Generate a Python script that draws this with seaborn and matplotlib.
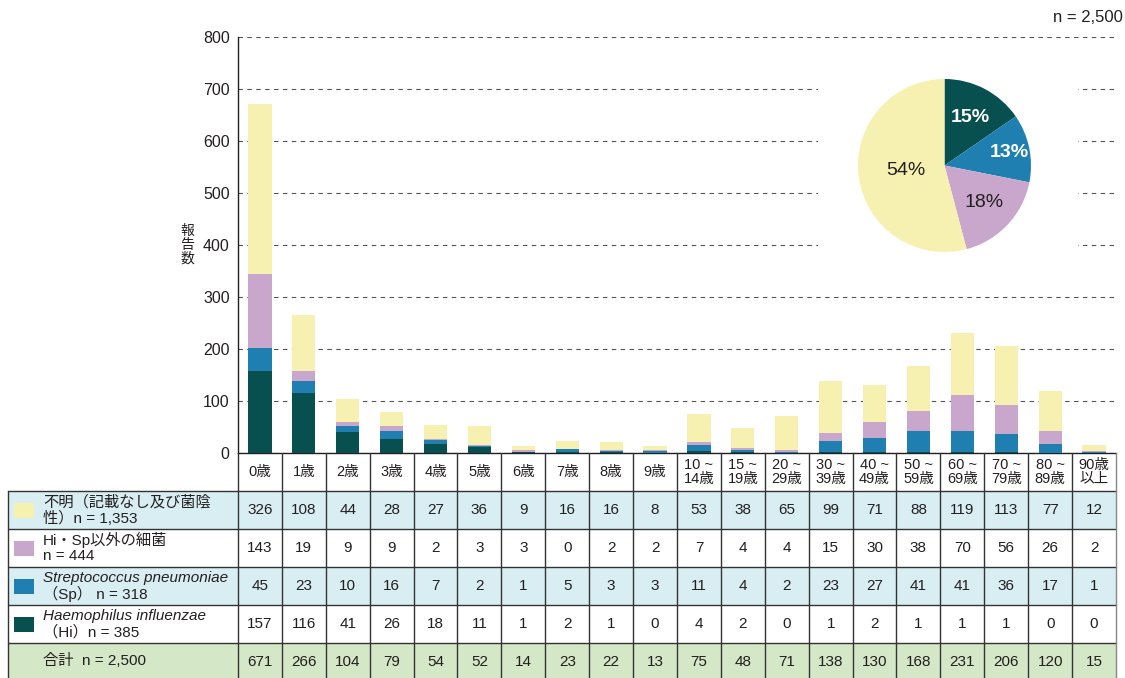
import numpy as np
import pandas as pd
import matplotlib
matplotlib.use("Agg")
import matplotlib.pyplot as plt
from matplotlib.patches import Rectangle
import seaborn as sns

# データ（年齢群別の報告数）
age_groups = ["0歳", "1歳", "2歳", "3歳", "4歳", "5歳", "6歳", "7歳", "8歳", "9歳",
              "10 ~\n14歳", "15 ~\n19歳", "20 ~\n29歳", "30 ~\n39歳", "40 ~\n49歳",
              "50 ~\n59歳", "60 ~\n69歳", "70 ~\n79歳", "80 ~\n89歳", "90歳\n以上"]
unknown = [326, 108, 44, 28, 27, 36, 9, 16, 16, 8, 53, 38, 65, 99, 71, 88, 119, 113, 77, 12]
other = [143, 19, 9, 9, 2, 3, 3, 0, 2, 2, 7, 4, 4, 15, 30, 38, 70, 56, 26, 2]
sp = [45, 23, 10, 16, 7, 2, 1, 5, 3, 3, 11, 4, 2, 23, 27, 41, 41, 36, 17, 1]
hi = [157, 116, 41, 26, 18, 11, 1, 2, 1, 0, 4, 2, 0, 1, 2, 1, 1, 1, 0, 0]

c_unknown = "#F6F1B1"
c_other = "#C9A7CD"
c_sp = "#1F7FB1"
c_hi = "#08504F"
c_row_blue = "#D9EEF3"
c_row_green = "#D4E7C6"
c_text = "#231F20"

df = pd.DataFrame({"age": age_groups, "unknown": unknown, "other": other,
                   "sp": sp, "hi": hi})
df["total"] = df[["unknown", "other", "sp", "hi"]].sum(axis=1)
n_total = int(df["total"].sum())

sns.set_theme(style="white")
plt.rcParams["font.family"] = ["Liberation Sans", "Noto Sans CJK JP"]
plt.rcParams["text.color"] = c_text

W, H = 1125, 678
fig = plt.figure(figsize=(W / 100, H / 100), dpi=100)

# チャート領域（ピクセル基準）
x0, x1 = 238, 1116
y_top, y_bot = 37, 453
cw = (x1 - x0) / len(age_groups)
ax = fig.add_axes([x0 / W, (H - y_bot) / H, (x1 - x0) / W, (y_bot - y_top) / H])

# 積み上げ棒（上から重ねて描く）
layers = [
    (df["total"], c_unknown),
    (df["hi"] + df["sp"] + df["other"], c_other),
    (df["hi"] + df["sp"], c_sp),
    (df["hi"], c_hi),
]
for vals, col in layers:
    sns.barplot(x=df["age"], y=vals, color=col, width=0.53, saturation=1,
                order=age_groups, ax=ax, zorder=3, linewidth=0, edgecolor="none")

ax.set_xlim(-0.5, len(age_groups) - 0.5)
ax.set_ylim(0, 800)
ax.set_yticks(range(0, 801, 100))
ax.set_xticks([])
ax.set_xlabel("")
ax.set_ylabel("")
ax.tick_params(axis="y", length=0, pad=6, labelsize=11.5, labelcolor=c_text)
ax.yaxis.grid(True, linestyle=(0, (4, 4)), color="#555555", lw=0.8, zorder=0)
ax.set_axisbelow(True)
for s in ["top", "right"]:
    ax.spines[s].set_visible(False)
for s in ["left", "bottom"]:
    ax.spines[s].set_color("#231F20")
    ax.spines[s].set_linewidth(1.0)

fig.text(187 / W, 1 - 245 / H, "報\n告\n数", ha="center", va="center",
         fontsize=10, linespacing=1.0)
fig.text(1123 / W, 1 - 18 / H, f"n = {n_total:,}", ha="right", va="center", fontsize=12)

# 円グラフ（白背景で罫線を隠す）
bg = fig.add_axes([818 / W, 1 - 275 / H, 260 / W, 215 / H])
bg.set_facecolor("white")
bg.set_xticks([])
bg.set_yticks([])
for s in bg.spines.values():
    s.set_visible(False)

pie_vals = [df["hi"].sum(), df["sp"].sum(), df["other"].sum(), df["unknown"].sum()]
pie_cols = [c_hi, c_sp, c_other, c_unknown]
pax = fig.add_axes([858 / W, 1 - 252 / H, 173 / W, 173 / H])
wedges, _ = pax.pie(pie_vals, colors=pie_cols, startangle=90, counterclock=False,
                    radius=1, wedgeprops=dict(linewidth=0))
pax.set_xlim(-1, 1)
pax.set_ylim(-1, 1)
label_dist = [0.63, 0.77, 0.62, 0.45]
label_style = [("white", "bold"), ("white", "bold"), (c_text, "normal"), (c_text, "normal")]
for w, v, d, (tc, fw) in zip(wedges, pie_vals, label_dist, label_style):
    ang = np.deg2rad((w.theta1 + w.theta2) / 2)
    pax.text(d * np.cos(ang), d * np.sin(ang), f"{v / sum(pie_vals) * 100:.0f}%",
             ha="center", va="center", fontsize=14, color=tc, fontweight=fw)

# 表
row_h = 38
lab_left = 8
L = (x0 - lab_left) / cw
tax = fig.add_axes([lab_left / W, (H - y_bot - 6 * row_h) / H, (x1 - lab_left) / W, 6 * row_h / H])
tax.set_xlim(-0.5 - L, len(age_groups) - 0.5)
tax.set_ylim(6, 0)
tax.axis("off")

row_keys = ["unknown", "other", "sp", "hi"]
row_colors = [c_row_blue, "white", c_row_blue, "white", c_row_green]
row_labels = [
    ("不明（記載なし及び菌陰", f"性）n = {df['unknown'].sum():,}", False),
    ("Hi・Sp以外の細菌", f"n = {df['other'].sum():,}", False),
    ("Streptococcus pneumoniae", f"（Sp） n = {df['sp'].sum():,}", True),
    ("Haemophilus influenzae", f"（Hi）n = {df['hi'].sum():,}", True),
]
swatch = [c_unknown, c_other, c_sp, c_hi]
xl = -0.5 - L
xr = len(age_groups) - 0.5

for r, col in enumerate(row_colors):
    tax.add_patch(Rectangle((xl, r + 1), xr - xl, 1, facecolor=col, edgecolor="none", zorder=1))

# 罫線
for r in range(1, 6):
    tax.plot([xl, xr], [r, r], color="#333333", lw=1, zorder=2, clip_on=False)
tax.plot([xl, xl], [1, 6], color="#333333", lw=1, zorder=2, clip_on=False)
for i in range(len(age_groups) + 1):
    c = "#888888" if i == len(age_groups) else "#333333"
    tax.plot([i - 0.5, i - 0.5], [0, 6], color=c, lw=1, zorder=2, clip_on=False)

# 見出し
for i, a in enumerate(age_groups):
    tax.text(i, 0.5, a, ha="center", va="center", fontsize=10.5, linespacing=0.95, zorder=3)

# 数値
for r, key in enumerate(row_keys + ["total"]):
    for i, v in enumerate(df[key]):
        tax.text(i, r + 1.5, f"{v}", ha="center", va="center", fontsize=11, zorder=3)

# 凡例ラベル
sw_w, sw_h = 20 / cw, 15 / row_h
for r, ((l1, l2, ital), sc) in enumerate(zip(row_labels, swatch)):
    yc = r + 1.5
    tax.add_patch(Rectangle((xl + 6 / cw, yc - sw_h / 2), sw_w, sw_h,
                            facecolor=sc, edgecolor="none", zorder=3))
    tx = xl + 35 / cw
    tax.text(tx, yc - 0.21, l1, ha="left", va="center", fontsize=11,
             style="italic" if ital else "normal", zorder=3)
    tax.text(tx, yc + 0.21, l2, ha="left", va="center", fontsize=11, zorder=3)

tax.text(xl + 35 / cw, 5.45, f"合計  n = {n_total:,}", ha="left", va="center",
         fontsize=11, zorder=3)

fig.savefig("out.png", dpi=100)
plt.close(fig)
